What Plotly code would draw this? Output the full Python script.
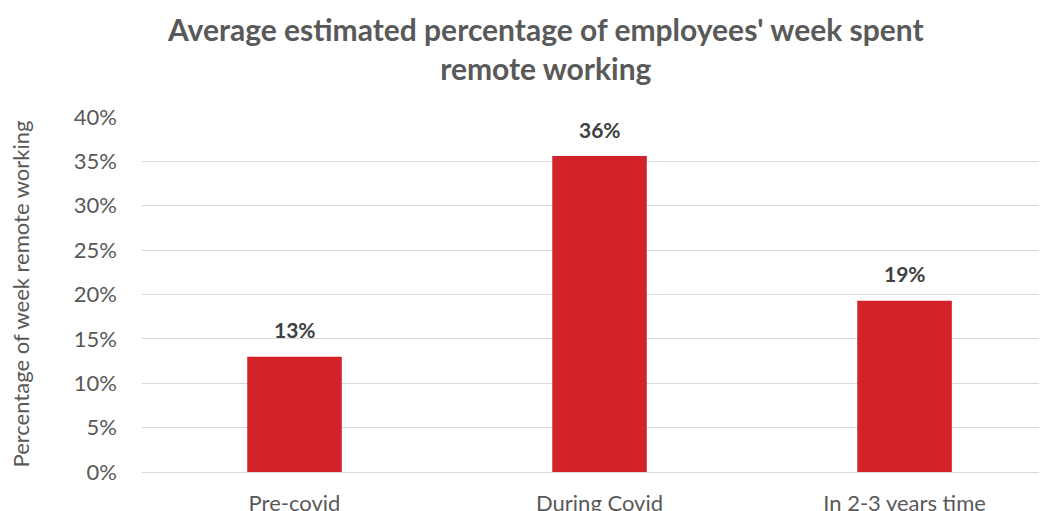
import plotly.graph_objects as go

categories = ["Pre-covid", "During Covid", "In 2-3 years time"]
values = [13.0, 35.6, 19.3]
labels = ["13%", "36%", "19%"]
y_ticks = [0, 5, 10, 15, 20, 25, 30, 35, 40]
y_tick_text = [f"{t}%" for t in y_ticks]

RED = "#D2232A"
GREY_TXT = "#595959"
FONT = "Lato, 'Open Sans', sans-serif"

# page body has an 8px default margin; plot area placed accordingly
ML, MT, MR, MB = 134, 109, 8, 47
W, H = 1047, 511
PW, PH = W - ML - MR, H - MT - MB

fig = go.Figure()
fig.add_trace(go.Bar(
    x=[0, 1, 2], y=values, width=0.31,
    marker=dict(color=RED, line=dict(width=0)),
    hoverinfo="skip",
))

for i, (v, t) in enumerate(zip(values, labels)):
    fig.add_annotation(x=i, y=v, text=f"<b>{t}</b>", showarrow=False,
                       yshift=27, font=dict(family=FONT, size=21, color="#404040"))

# chart title
fig.add_annotation(
    xref="paper", yref="paper", x=(537.5 - ML) / PW, y=(H - MB - 1) / PH,
    xanchor="center", yanchor="top", showarrow=False,
    text="<b>Average estimated percentage of employees' week spent<br>remote working</b>",
    font=dict(family=FONT, size=30, color=GREY_TXT), align="center",
)
# y axis title
fig.add_annotation(
    xref="paper", yref="paper", x=(12 - ML) / PW, y=0.5,
    xanchor="center", yanchor="middle", showarrow=False, textangle=-90,
    text="Percentage of week remote working",
    font=dict(family=FONT, size=22, color=GREY_TXT),
)

fig.update_layout(
    width=W, height=H,
    margin=dict(l=ML, r=MR, t=MT, b=MB),
    paper_bgcolor="white", plot_bgcolor="white",
    showlegend=False,
    xaxis=dict(
        range=[-0.5, 2.467], tickmode="array", tickvals=[0, 1, 2], ticktext=categories,
        showgrid=False, zeroline=False, showline=False, ticks="",
        tickfont=dict(family=FONT, size=22, color=GREY_TXT),
        ticklabelstandoff=16, automargin=False,
    ),
    yaxis=dict(
        range=[0, 40], tickmode="array", tickvals=y_ticks, ticktext=y_tick_text,
        showgrid=True, gridcolor="#D9D9D9", gridwidth=1.3,
        zeroline=True, zerolinecolor="#D9D9D9", zerolinewidth=1.3,
        showline=False, ticks="",
        tickfont=dict(family=FONT, size=22, color=GREY_TXT),
        ticklabelstandoff=24, automargin=False,
    ),
)

fig.write_html("out.html")
